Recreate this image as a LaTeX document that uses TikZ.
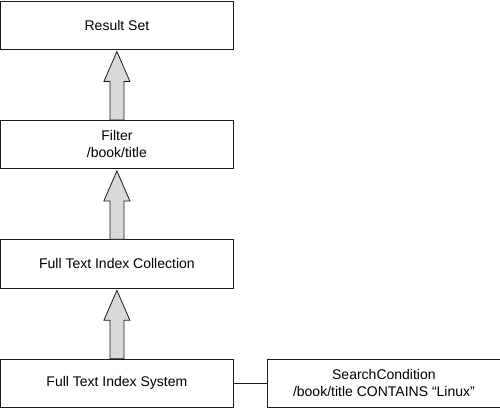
\documentclass[tikz,border=0pt]{standalone}
\usepackage{fontspec}
\setmainfont{Liberation Sans}
\usetikzlibrary{positioning, calc}

\begin{document}
\begin{tikzpicture}[
    every node/.style={font=\fontsize{14pt}{17pt}\selectfont},
    stage/.style={draw=boxline, line width=0.8pt, align=center,
        minimum width=232.2pt, minimum height=48.2pt, inner sep=0pt},
    liftarrow/.style={draw=boxline, fill=arrowfill, line width=0.8pt, line join=miter},
    node distance=70.4pt,
]

\definecolor{boxline}{HTML}{1A1A1A}
\definecolor{arrowfill}{HTML}{D9D9D9}

\useasboundingbox (0,0) rectangle (500pt,-408pt);

% ---------------------------------------------------------------- the stages
\node[stage] (result) at (116.9pt,-25pt) {Result Set};
\node[stage, below=of result] (filter) {Filter\\/book/title};
\node[stage, below=of filter] (collection) {Full Text Index Collection};
\node[stage, below=of collection] (system) {Full Text Index System};

% ---------------------------------------------------------------- the condition
\node[stage, right=34pt of system] (condition)
    {SearchCondition\\/book/title CONTAINS “Linux”};
\draw[boxline, line width=0.8pt] (system.east) -- (condition.west);

% ---------------------------------------------------------------- block arrows
\foreach \from/\to in {filter/result, collection/filter, system/collection} {
    \draw[liftarrow]
        ($(\from.north)+(-7pt,0)$) -- ($(\to.south)+(-7pt,-32pt)$)
        -- ($(\to.south)+(-13pt,-32pt)$) -- ($(\to.south)+(0,-2pt)$)
        -- ($(\to.south)+(13pt,-32pt)$) -- ($(\to.south)+(7pt,-32pt)$)
        -- ($(\from.north)+(7pt,0)$) -- cycle;
}

\end{tikzpicture}
\end{document}
